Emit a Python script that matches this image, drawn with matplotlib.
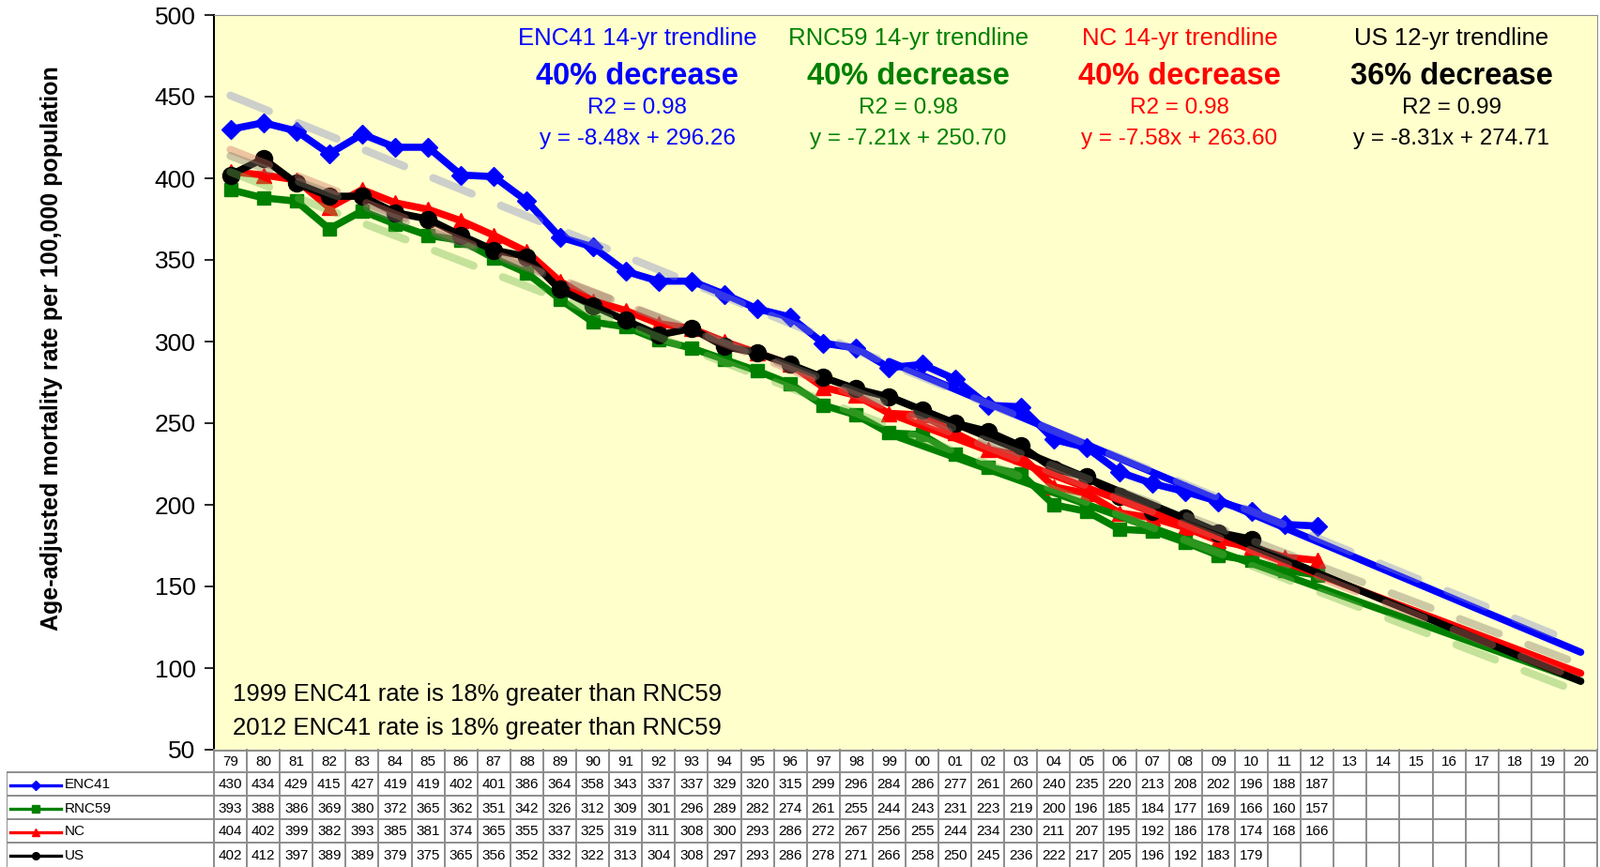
import matplotlib
matplotlib.use('Agg')
import matplotlib.pyplot as plt
import numpy as np

plt.rcParams['font.family'] = ['Liberation Sans', 'DejaVu Sans']
plt.rcParams['lines.scale_dashes'] = False

# Данные таблицы (годы 1979-2020)
years = ['79', '80', '81', '82', '83', '84', '85', '86', '87', '88', '89',
         '90', '91', '92', '93', '94', '95', '96', '97', '98', '99',
         '00', '01', '02', '03', '04', '05', '06', '07', '08', '09',
         '10', '11', '12', '13', '14', '15', '16', '17', '18', '19', '20']
enc41 = [430, 434, 429, 415, 427, 419, 419, 402, 401, 386, 364, 358, 343, 337, 337, 329, 320,
         315, 299, 296, 284, 286, 277, 261, 260, 240, 235, 220, 213, 208, 202, 196, 188, 187]
rnc59 = [393, 388, 386, 369, 380, 372, 365, 362, 351, 342, 326, 312, 309, 301, 296, 289, 282,
         274, 261, 255, 244, 243, 231, 223, 219, 200, 196, 185, 184, 177, 169, 166, 160, 157]
nc = [404, 402, 399, 382, 393, 385, 381, 374, 365, 355, 337, 325, 319, 311, 308, 300, 293,
      286, 272, 267, 256, 255, 244, 234, 230, 211, 207, 195, 192, 186, 178, 174, 168, 166]
us = [402, 412, 397, 389, 389, 379, 375, 365, 356, 352, 332, 322, 313, 304, 308, 297, 293,
      286, 278, 271, 266, 258, 250, 245, 236, 222, 217, 205, 196, 192, 183, 179]

names = ['ENC41', 'RNC59', 'NC', 'US']
series = [enc41, rnc59, nc, us]
colors = ['#0000ff', '#008000', '#ff0000', '#000000']
markers = ['D', 's', '^', 'o']
msizes = [10, 10, 12, 13]
dash_colors = ['#8088c8', '#70b850', '#d07060', '#807868']

# Тренды с подписей (x = 1 для 1999 г.)
slopes = [-8.48, -7.21, -7.58, -8.31]
intercepts = [296.26, 250.70, 263.60, 274.71]
trend_titles = ['ENC41 14-yr trendline', 'RNC59 14-yr trendline', 'NC 14-yr trendline', 'US 12-yr trendline']
decreases = ['40% decrease', '40% decrease', '40% decrease', '36% decrease']
r2_text = ['R2 = 0.98', 'R2 = 0.98', 'R2 = 0.98', 'R2 = 0.99']
eq_text = ['y = -8.48x + 296.26', 'y = -7.21x + 250.70', 'y = -7.58x + 263.60', 'y = -8.31x + 274.71']
start_1999 = years.index('99')

W, H = 1705, 924
fig = plt.figure(figsize=(W / 100, H / 100), dpi=100)
left, right, top, bottom = 228, 1702, 16, 799
ax = fig.add_axes([left / W, 1 - bottom / H, (right - left) / W, (bottom - top) / H])
ax.set_facecolor('#ffffcc')
n = len(years)
ax.set_xlim(-0.5, n - 0.5)
ax.set_ylim(50, 500)
ax.set_yticks(range(50, 501, 50))
ax.tick_params(axis='y', labelsize=19, length=7, width=1.2, pad=7)
ax.set_xticks([])
for s in ['top', 'right', 'bottom']:
    ax.spines[s].set_color('#909090')
ax.spines['left'].set_linewidth(1.5)
ax.set_ylabel('Age-adjusted mortality rate per 100,000 population', fontsize=18,
              fontweight='bold')
ax.yaxis.set_label_coords(-0.109, 0.546)

idx = np.arange(n)

# Линии данных
order = [1, 2, 0, 3]
for k in order:
    x = np.arange(len(series[k]))
    ax.plot(x, series[k], color=colors[k], lw=5.5, marker=markers[k], ms=msizes[k],
            zorder=3 + k * 0.1)

# Сплошные тренды 1999-2020
for k in order:
    xs = idx[start_1999:]
    xe = xs - start_1999 + 1
    ax.plot(xs, slopes[k] * xe + intercepts[k], color=colors[k], lw=5.5, zorder=3.5 + k * 0.1,
            solid_capstyle='round')

# Пунктирные тренды по всем данным
for k in order:
    x = np.arange(len(series[k]))
    p = np.polyfit(x, series[k], 1)
    ax.plot(idx, np.polyval(p, idx), color=dash_colors[k], lw=6, alpha=0.4,
            dashes=(32, 24), dash_capstyle='round', zorder=4)

# Подписи трендов
centers = [679, 968, 1257, 1547]
for k in range(4):
    cx = centers[k] / W
    fig.text(cx, 1 - 41 / H, trend_titles[k], color=colors[k], fontsize=18.5, ha='center', va='center')
    fig.text(cx, 1 - 81 / H, decreases[k], color=colors[k], fontsize=23.5, fontweight='bold',
             ha='center', va='center')
    fig.text(cx, 1 - 115 / H, r2_text[k], color=colors[k], fontsize=17.5, ha='center', va='center')
    fig.text(cx, 1 - 148 / H, eq_text[k], color=colors[k], fontsize=17.5, ha='center', va='center')

fig.text(248 / W, 1 - 740 / H, '1999 ENC41 rate is 18% greater than RNC59', fontsize=18.5, va='center')
fig.text(248 / W, 1 - 776 / H, '2012 ENC41 rate is 18% greater than RNC59', fontsize=18.5, va='center')

# Таблица данных
colw = (right - left) / n
tleft = 7
tax = fig.add_axes([tleft / W, 0, (right - tleft) / W, (H - bottom) / H])
tax.set_xlim(-0.5 - (left - tleft) / colw, n - 0.5)
tax.set_ylim(H, bottom)
tax.axis('off')
xl = -0.5 - (left - tleft) / colw
rows = [799, 823, 848, 873, 898, 924]
gc = '#8c8c8c'
for j in range(n + 1):
    tax.plot([j - 0.5, j - 0.5], [rows[0], rows[-1]], color=gc, lw=1.4, clip_on=False)
tax.plot([xl, xl], [rows[1], rows[-1]], color=gc, lw=1.4)
tax.plot([-0.5, n - 0.5], [rows[0] + 0.5, rows[0] + 0.5], color=gc, lw=1.4)
for r in rows[1:-1]:
    tax.plot([xl, n - 0.5], [r, r], color=gc, lw=1.4)

for j, yl in enumerate(years):
    tax.text(j, (rows[0] + rows[1]) / 2 + 1, yl, ha='center', va='center', fontsize=11)
for k in range(4):
    yc = (rows[k + 1] + rows[k + 2]) / 2 + 1
    for j, v in enumerate(series[k]):
        tax.text(j, yc, str(v), ha='center', va='center', fontsize=11)
    kx0 = xl + (11 - tleft) / colw
    kx1 = xl + (65 - tleft) / colw
    tax.plot([kx0, kx1], [yc, yc], color=colors[k], lw=2.4)
    tax.plot([(kx0 + kx1) / 2], [yc], color=colors[k], marker=markers[k], ms=5.5)
    tax.text(xl + (69 - tleft) / colw, yc, names[k], ha='left', va='center', fontsize=11)

fig.savefig('out.png', dpi=100, facecolor='white')
